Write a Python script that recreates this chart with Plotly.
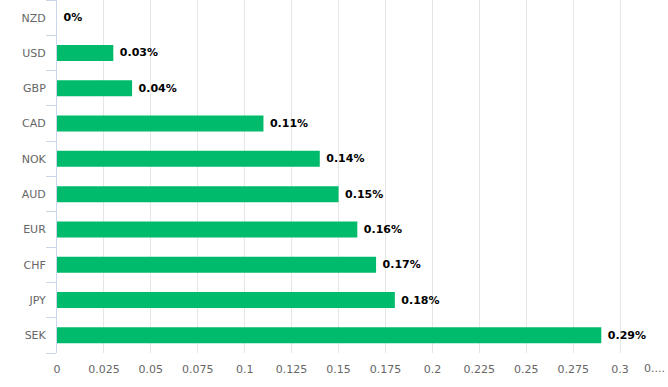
import plotly.graph_objects as go

currencies = ["NZD", "USD", "GBP", "CAD", "NOK", "AUD", "EUR", "CHF", "JPY", "SEK"]
values = [0, 0.03, 0.04, 0.11, 0.14, 0.15, 0.16, 0.17, 0.18, 0.29]
labels = ["0%", "0.03%", "0.04%", "0.11%", "0.14%", "0.15%", "0.16%", "0.17%", "0.18%", "0.29%"]
tick_vals = [0, 0.025, 0.05, 0.075, 0.1, 0.125, 0.15, 0.175, 0.2, 0.225, 0.25, 0.275, 0.3]
tick_text = ["0", "0.025", "0.05", "0.075", "0.1", "0.125", "0.15", "0.175", "0.2", "0.225", "0.25", "0.275", "0.3"]

FONT = "DejaVu Sans, Verdana, sans-serif"

fig = go.Figure(go.Bar(
    x=values, y=currencies, orientation="h",
    marker=dict(color="#00bb6b", line=dict(width=0)),
    text=["\u00a0<b>%s</b>" % t for t in labels],
    textposition="outside", cliponaxis=False,
    textfont=dict(family=FONT, size=11, color="#000000"),
))

fig.update_layout(
    width=668, height=387,
    margin=dict(l=57, r=1, t=0, b=34, autoexpand=False),
    plot_bgcolor="#ffffff", paper_bgcolor="#ffffff",
    bargap=0.547,
    showlegend=False,
    font=dict(family=FONT, size=11, color="#666666"),
    xaxis=dict(
        range=[0, 0.325], tickvals=tick_vals, ticktext=tick_text,
        showgrid=True, gridcolor="#e6e6e6", gridwidth=1,
        zeroline=False, showline=False, ticks="", automargin=False,
        ticklabelstandoff=8,
        tickfont=dict(family=FONT, size=11, color="#666666"),
    ),
    yaxis=dict(
        categoryorder="array", categoryarray=currencies[::-1],
        autorange=True, showgrid=False, zeroline=False, automargin=False,
        showline=True, linecolor="#ccd6eb", linewidth=1,
        ticks="outside", ticklen=10, tickcolor="#ccd6eb", tickson="boundaries",
        ticklabelstandoff=8,
        tickfont=dict(family=FONT, size=11, color="#666666"),
    ),
    annotations=[dict(
        x=0.325, xref="x", y=0, yref="paper", yshift=-15,
        text="0....", showarrow=False, xanchor="right", xshift=0, yanchor="middle",
        font=dict(family=FONT, size=11, color="#666666"),
    )],
)

fig.write_html("out.html", config={"displayModeBar": False},
               post_script="document.body.style.margin='0';document.body.style.overflow='hidden';")
